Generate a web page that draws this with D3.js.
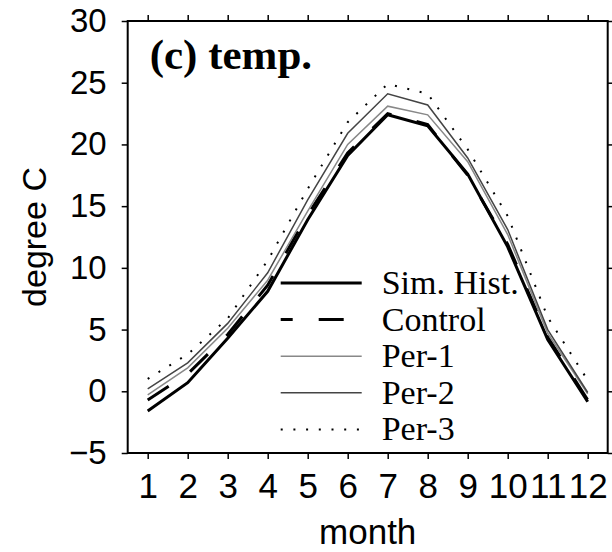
<!DOCTYPE html>
<html>
<head>
<meta charset="utf-8">
<script src="https://cdn.jsdelivr.net/npm/d3@7"></script>
<style>
  body { margin: 0; background: #fff; }
  svg { display: block; }
</style>
</head>
<body>
<script>
// monthly temperature, degree C
const months = [1, 2, 3, 4, 5, 6, 7, 8, 9, 10, 11, 12];
const simHist = [-1.6, 0.7, 4.3, 8.1, 13.9, 19.1, 22.4, 21.5, 17.6, 11.7, 4.2, -0.85];
const control = [-0.7, 1.4, 4.6, 8.6, 14.3, 19.3, 22.5, 21.6, 17.5, 11.9, 4.4, -0.7];
const per1 = [-0.3, 1.9, 5.1, 9.0, 14.6, 20.0, 23.1, 22.4, 18.6, 12.7, 4.7, -0.2];
const per2 = [0.2, 2.3, 5.5, 9.6, 15.5, 20.9, 24.1, 23.2, 18.9, 13.1, 5.0, -0.1];
const per3 = [1.0, 3.0, 5.9, 10.6, 16.4, 21.8, 24.9, 24.1, 19.6, 14.2, 6.0, 0.9];
const yTicks = [-5, 0, 5, 10, 15, 20, 25, 30];

const series = [
  { name: "Sim. Hist.", values: simHist, color: "#000", width: 3, dash: null },
  { name: "Control", values: control, color: "#000", width: 3, dash: "25,26" },
  { name: "Per-1", values: per1, color: "#888", width: 1.5, dash: null },
  { name: "Per-2", values: per2, color: "#444", width: 1.5, dash: null },
  { name: "Per-3", values: per3, color: "#000", width: 2, dash: "2,10.7" }
];

const W = 612, H = 552;
const margin = { left: 127.7, right: 4.3, top: 21, bottom: 99 };
const iw = W - margin.left - margin.right;
const ih = H - margin.top - margin.bottom;
const sans = "Liberation Sans, Arial, sans-serif";
const serif = "Liberation Serif, Times New Roman, serif";

const svg = d3.select("body").append("svg")
  .attr("width", W)
  .attr("height", H);

const g = svg.append("g")
  .attr("transform", `translate(${margin.left},${margin.top})`);

const x = d3.scaleLinear().domain([0.5, 12.5]).range([0, iw]);
const y = d3.scaleLinear().domain([-5, 30]).range([ih, 0]);

// axes, ticks pointing outward on all four sides
function styleAxis(sel) {
  sel.select(".domain").remove();
  sel.selectAll(".tick line").attr("stroke", "#000").attr("stroke-width", 1.5);
}

g.append("g")
  .attr("transform", `translate(0,${ih})`)
  .call(d3.axisBottom(x).tickValues(months).tickFormat(d3.format("d"))
    .tickSize(6).tickPadding(14))
  .call(styleAxis)
  .selectAll("text")
  .attr("font-family", sans)
  .attr("font-size", 35)
  .attr("fill", "#000");

g.append("g")
  .call(d3.axisTop(x).tickValues(months).tickFormat("").tickSize(6))
  .call(styleAxis);

g.append("g")
  .call(d3.axisLeft(y).tickValues(yTicks).tickFormat(d3.format("d"))
    .tickSize(6).tickPadding(15))
  .call(styleAxis)
  .selectAll("text")
  .attr("font-family", sans)
  .attr("font-size", 33)
  .attr("fill", "#000");

g.append("g")
  .attr("transform", `translate(${iw},0)`)
  .call(d3.axisRight(y).tickValues(yTicks).tickFormat("").tickSize(6))
  .call(styleAxis);

// lines
const line = d3.line()
  .x((d, i) => x(months[i]))
  .y(d => y(d));

g.selectAll(".series")
  .data(series)
  .enter()
  .append("path")
  .attr("class", "series")
  .attr("d", d => line(d.values))
  .attr("fill", "none")
  .attr("stroke", d => d.color)
  .attr("stroke-width", d => d.width)
  .attr("stroke-dasharray", d => d.dash);

// frame
g.append("rect")
  .attr("width", iw)
  .attr("height", ih)
  .attr("fill", "none")
  .attr("stroke", "#000")
  .attr("stroke-width", 2);

// panel title
g.append("text")
  .attr("x", 22)
  .attr("y", 48)
  .attr("font-family", serif)
  .attr("font-weight", "bold")
  .attr("font-size", 43)
  .text("(c) temp.");

// legend
const legend = g.append("g")
  .attr("transform", "translate(153,262)");

const rows = legend.selectAll(".row")
  .data(series)
  .enter()
  .append("g")
  .attr("class", "row")
  .attr("transform", (d, i) => `translate(0,${i * 36.6})`);

rows.append("line")
  .attr("x1", 0)
  .attr("x2", 81)
  .attr("stroke", d => d.color)
  .attr("stroke-width", d => d.width)
  .attr("stroke-dasharray", d => d.dash)
  .attr("stroke-dashoffset", d => d.name === "Control" ? 13 : null);

rows.append("text")
  .attr("x", 101)
  .attr("y", 11)
  .attr("font-family", serif)
  .attr("font-size", 34)
  .text(d => d.name);

// axis titles
svg.append("text")
  .attr("x", margin.left + iw / 2)
  .attr("y", 544)
  .attr("text-anchor", "middle")
  .attr("font-family", sans)
  .attr("font-size", 35)
  .text("month");

svg.append("text")
  .attr("transform", `translate(46,${margin.top + ih / 2}) rotate(-90)`)
  .attr("text-anchor", "middle")
  .attr("font-family", sans)
  .attr("font-size", 34)
  .text("degree C");
</script>
</body>
</html>
